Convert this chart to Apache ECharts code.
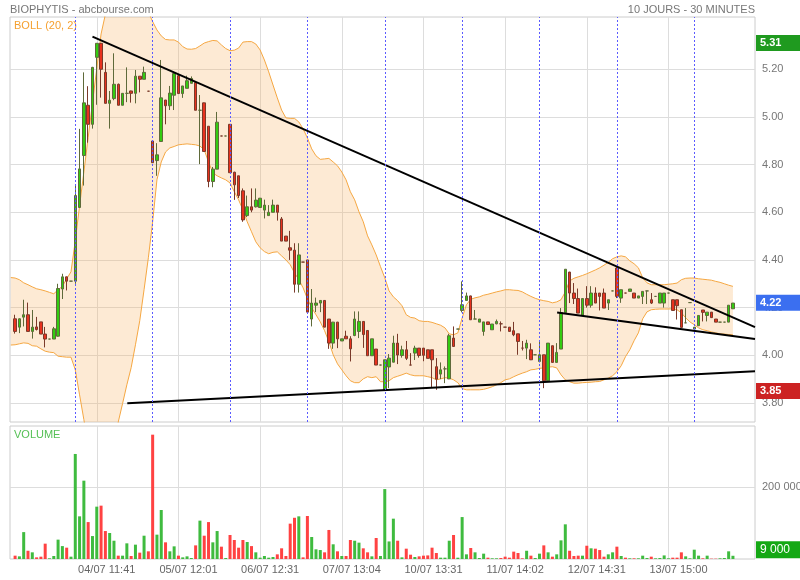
<!DOCTYPE html>
<html><head><meta charset="utf-8">
<script src="https://cdn.jsdelivr.net/npm/echarts@6/dist/echarts.min.js"></script>
<style>html,body{margin:0;padding:0;background:#fff}#c{width:800px;height:580px}</style>
</head><body><div id="c"></div>
<script>
// ---------- DATA ----------
const dayStarts = [14, 32, 50, 68, 86, 104, 122, 140, 158];
const tickIdx = [19, 38, 57, 76, 95, 114, 133, 152];
const tickLabels = ['04/07 11:41', '05/07 12:01', '06/07 12:31', '07/07 13:04', '10/07 13:31', '11/07 14:02', '12/07 14:31', '13/07 15:00'];
const priceTicks = [3.8, 4.0, 4.2, 4.4, 4.6, 4.8, 5.0, 5.2];
const volumeTicks = [200000];

const openP = [
4.153,4.118,4.160,4.170,4.100,4.119,4.140,4.089,4.068,4.068,
4.080,4.278,4.329,4.311,4.311,4.620,4.838,5.049,4.969,5.250,
5.309,5.187,5.057,5.077,5.137,5.049,5.099,5.109,5.099,5.171,
5.158,5.108,4.899,4.817,4.897,5.071,5.047,5.091,5.173,5.098,
5.120,5.141,5.144,5.028,5.059,4.961,4.729,4.781,4.920,4.920,
4.969,4.768,4.753,4.690,4.586,4.623,4.623,4.620,4.609,4.586,
4.600,4.630,4.572,4.500,4.451,4.441,4.298,4.391,4.400,4.152,
4.210,4.219,4.230,4.152,4.051,4.139,4.060,4.080,4.069,4.083,
4.100,4.142,4.104,3.998,4.026,3.959,3.855,3.951,3.971,4.051,
3.999,4.023,3.959,4.009,4.030,4.030,4.023,4.023,3.952,3.921,
3.943,3.901,4.072,4.110,4.188,4.230,4.249,4.152,4.139,4.100,
4.140,4.107,4.132,4.132,4.118,4.118,4.103,4.090,4.030,4.030,
4.023,4.002,3.974,4.002,3.893,4.040,3.970,4.026,4.179,4.349,
4.261,4.238,4.168,4.238,4.210,4.261,4.261,4.261,4.219,4.270,
4.366,4.240,4.261,4.268,4.261,4.240,4.247,4.270,4.233,4.247,
4.219,4.219,4.261,4.233,4.233,4.191,4.136,4.221,4.110,4.124,
4.190,4.167,4.181,4.152,4.139,4.139,4.139,4.195];
const closeP = [
4.100,4.153,4.170,4.100,4.118,4.108,4.089,4.068,4.068,4.111,
4.280,4.329,4.311,4.311,4.670,4.782,5.059,4.969,5.208,5.309,
5.200,5.057,5.070,5.137,5.049,5.099,5.099,5.099,5.171,5.158,
5.187,5.108,4.808,4.841,5.080,5.047,5.100,5.182,5.098,5.130,
5.152,5.161,5.028,5.028,4.855,4.729,4.781,4.978,4.920,4.920,
4.766,4.715,4.670,4.568,4.623,4.609,4.651,4.659,4.630,4.600,
4.630,4.600,4.479,4.479,4.441,4.298,4.421,4.391,4.181,4.219,
4.219,4.230,4.118,4.051,4.139,4.069,4.069,4.069,4.027,4.152,
4.142,4.087,3.998,4.069,3.959,3.959,3.981,3.988,4.051,4.001,
4.023,3.987,3.959,4.030,3.999,4.000,3.987,3.981,3.900,3.939,
3.943,4.082,4.037,4.110,4.212,4.249,4.149,4.152,4.152,4.140,
4.129,4.131,4.142,4.132,4.118,4.100,4.086,4.058,4.030,4.051,
3.981,4.002,4.002,3.893,4.051,3.970,4.012,4.179,4.361,4.261,
4.238,4.177,4.238,4.210,4.261,4.219,4.247,4.198,4.233,4.270,
4.247,4.275,4.261,4.278,4.240,4.249,4.268,4.270,4.219,4.247,
4.261,4.261,4.261,4.188,4.208,4.117,4.136,4.221,4.118,4.167,
4.180,4.181,4.158,4.139,4.139,4.139,4.210,4.219];
const lowP = [
4.091,4.093,4.121,4.100,4.070,4.104,4.089,4.033,4.068,4.068,
4.078,4.236,4.272,4.311,4.300,4.620,4.712,4.892,4.951,5.051,
5.081,5.057,4.951,5.070,5.049,5.049,5.062,5.060,5.057,5.103,
5.158,5.108,4.808,4.753,4.897,4.969,5.029,5.029,5.098,5.080,
5.120,5.141,5.028,4.802,4.855,4.705,4.705,4.781,4.920,4.920,
4.766,4.652,4.660,4.560,4.580,4.600,4.620,4.620,4.574,4.586,
4.600,4.565,4.479,4.479,4.400,4.263,4.263,4.391,4.180,4.121,
4.181,4.181,4.118,4.027,4.027,4.030,4.060,4.069,3.974,4.080,
4.072,4.031,3.998,3.998,3.959,3.959,3.850,3.862,3.970,3.963,
3.990,3.980,3.959,3.980,3.990,3.975,3.987,3.867,3.855,3.900,
3.883,3.900,4.037,4.110,4.180,4.230,4.149,4.152,4.139,4.082,
4.129,4.107,4.130,4.100,4.118,4.100,4.080,4.002,4.020,3.984,
3.980,4.002,3.970,3.862,3.890,3.970,3.970,4.026,4.179,4.219,
4.215,4.177,4.168,4.200,4.200,4.219,4.188,4.198,4.190,4.270,
4.240,4.220,4.261,4.268,4.240,4.240,4.215,4.215,4.215,4.247,
4.219,4.200,4.261,4.188,4.150,4.117,4.136,4.221,4.110,4.124,
4.142,4.142,4.158,4.139,4.139,4.139,4.139,4.195];
const highP = [
4.170,4.155,4.233,4.221,4.190,4.161,4.140,4.119,4.068,4.119,
4.300,4.342,4.330,4.311,4.712,4.950,5.187,5.129,5.210,5.310,
5.310,5.229,5.109,5.267,5.140,5.100,5.208,5.110,5.197,5.171,
5.211,5.108,4.899,4.890,5.239,5.071,5.130,5.190,5.180,5.130,
5.173,5.170,5.150,5.092,5.060,4.961,4.790,5.021,4.920,4.920,
4.970,4.770,4.753,4.700,4.670,4.700,4.700,4.660,4.653,4.630,
4.653,4.630,4.580,4.500,4.522,4.470,4.470,4.391,4.400,4.278,
4.242,4.230,4.230,4.152,4.140,4.140,4.069,4.103,4.080,4.184,
4.184,4.142,4.104,4.069,4.026,3.959,3.981,4.005,4.082,4.090,
4.040,4.060,4.009,4.040,4.030,4.030,4.023,4.023,3.988,3.970,
3.953,4.090,4.121,4.110,4.310,4.263,4.250,4.190,4.152,4.140,
4.140,4.131,4.150,4.142,4.118,4.118,4.140,4.090,4.060,4.065,
4.050,4.002,4.060,4.002,4.051,4.040,4.051,4.198,4.361,4.350,
4.303,4.280,4.238,4.290,4.290,4.285,4.261,4.280,4.233,4.270,
4.370,4.275,4.261,4.278,4.261,4.249,4.268,4.270,4.261,4.247,
4.261,4.261,4.261,4.233,4.233,4.191,4.198,4.221,4.118,4.167,
4.190,4.181,4.181,4.152,4.139,4.139,4.210,4.219];
const volume = [
9300,7400,75000,23000,18600,4600,6500,42800,1900,8400,
54000,36000,31600,6500,293000,119000,218500,103000,64000,146000,
148800,78000,72500,51000,9300,9300,43700,8400,40000,17700,
65000,21400,346800,67900,136700,46500,21400,35300,9300,4600,
7400,2800,38000,107000,65000,103000,46500,78000,34400,2800,
67000,53000,31600,53000,47400,36000,18600,3700,8400,3700,
5600,13000,29800,8400,98600,115000,119000,4600,120000,61400,
27000,25000,18600,81000,41000,21400,8400,8400,53000,51000,
45600,29800,18600,7400,58600,8400,195000,49000,112500,51000,
4600,28800,12000,5600,7400,9300,10000,31600,16700,3700,
3700,51000,67000,3700,117000,13000,30700,18600,2800,14900,
3700,1900,1900,2800,6500,3700,20500,16700,1900,23000,
9300,2800,14900,38000,18600,6500,13000,52000,96700,23000,
8400,9300,9300,37000,29800,28800,25000,6500,13000,18600,
34400,8400,3700,1900,1900,1900,9300,2800,6500,1900,
2800,10000,1900,3700,3700,18600,7400,1900,26000,9300,
1900,9300,900,900,1900,2800,21400,9000];

// Bollinger (20, 2) bands, first value = bar before the window
const bollStart = -1;
const bollUpper = [4.326,
4.324,4.317,4.304,4.296,4.287,4.279,4.275,4.270,4.264,4.258,
4.275,4.289,4.321,4.350,4.480,4.627,4.769,4.914,5.059,5.203,
5.348,5.43,5.50,5.55,5.58,5.60,5.61,5.60,5.58,5.54,
5.49,5.44,5.40,5.365,5.340,5.325,5.323,5.323,5.314,5.295,
5.285,5.284,5.287,5.298,5.310,5.316,5.321,5.319,5.302,5.287,
5.278,5.280,5.289,5.314,5.316,5.316,5.306,5.281,5.239,5.189,
5.134,5.080,5.029,4.996,4.994,4.994,4.979,4.950,4.912,4.866,
4.837,4.822,4.824,4.826,4.811,4.795,4.769,4.736,4.686,4.652,
4.602,4.560,4.501,4.463,4.421,4.372,4.325,4.270,4.245,4.229,
4.208,4.170,4.159,4.156,4.145,4.142,4.142,4.138,4.132,4.126,
4.115,4.090,4.086,4.094,4.157,4.212,4.235,4.241,4.245,4.252,
4.256,4.261,4.266,4.270,4.275,4.275,4.273,4.272,4.266,4.256,
4.247,4.239,4.233,4.229,4.226,4.220,4.224,4.233,4.266,4.312,
4.323,4.329,4.335,4.342,4.350,4.358,4.367,4.378,4.390,4.405,
4.413,4.417,4.413,4.396,4.384,4.367,4.325,4.304,4.296,4.296,
4.296,4.296,4.298,4.300,4.303,4.317,4.323,4.324,4.324,4.321,
4.319,4.317,4.315,4.310,4.306,4.300,4.294,4.289];
const bollLower = [4.043,
4.044,4.048,4.052,4.050,4.040,4.038,4.027,4.017,4.013,4.011,
3.996,3.994,3.992,3.992,3.939,3.834,3.730,3.62,3.52,3.45,
3.42,3.45,3.52,3.62,3.72,3.797,3.876,3.948,4.044,4.145,
4.275,4.409,4.560,4.736,4.811,4.853,4.870,4.876,4.883,4.885,
4.887,4.885,4.883,4.878,4.862,4.811,4.765,4.753,4.744,4.736,
4.723,4.686,4.652,4.610,4.560,4.518,4.476,4.451,4.435,4.426,
4.432,4.434,4.417,4.400,4.380,4.346,4.317,4.283,4.237,4.199,
4.170,4.140,4.103,4.057,4.002,3.964,3.939,3.914,3.893,3.885,
3.885,3.901,3.910,3.906,3.910,3.889,3.889,3.893,3.906,3.912,
3.918,3.925,3.918,3.914,3.914,3.914,3.910,3.906,3.897,3.901,
3.906,3.904,3.897,3.885,3.860,3.855,3.855,3.855,3.855,3.857,
3.862,3.868,3.876,3.885,3.897,3.901,3.910,3.918,3.925,3.931,
3.939,3.941,3.945,3.947,3.950,3.952,3.947,3.918,3.897,3.889,
3.883,3.883,3.885,3.886,3.887,3.889,3.890,3.897,3.904,3.914,
3.931,3.956,3.994,4.023,4.061,4.094,4.153,4.182,4.191,4.193,
4.194,4.194,4.194,4.195,4.191,4.178,4.157,4.140,4.128,4.115,
4.107,4.103,4.098,4.094,4.090,4.089,4.087,4.086];

// Hand-drawn trend lines: [bar index, price] end points
const trendResistance = [[18, 5.337], [172.13, 4.118]];
const trendWedgeLow = [[126.1, 4.179], [172.13, 4.068]];
const trendSupport = [[26.1, 3.799], [172.13, 3.933]];

// ---------- CHART ----------
const FONT = 'Liberation Sans, Arial, sans-serif';
const GREEN = '#33cc11', RED = '#e8321e';
const n = openP.length;
const candles = openP.map((o, i) => [i, o, closeP[i], Math.min(lowP[i], o, closeP[i]), Math.max(highP[i], o, closeP[i])]);
const dirUp = openP.map((o, i) => closeP[i] > o ? true : closeP[i] < o ? false : (i > 0 ? closeP[i - 1] <= closeP[i] : true));
const volData = volume.map((v, i) => ({ value: [i, v], itemStyle: { color: dirUp[i] ? '#3fbb3f' : '#ff4242' } }));
const bandData = bollUpper.map((u, i) => [i + bollStart, u, bollLower[i]]);
const maxHigh = Math.max(...highP), minLow = Math.min(...lowP), lastClose = closeP[n - 1], lastVol = volume[n - 1];
const fmtVol = v => String(v).replace(/\B(?=(\d{3})+(?!\d))/g, ' ');
const tickMap = {}; tickIdx.forEach((t, i) => tickMap[t] = tickLabels[i]);

const X_MIN = -1.186, X_MAX = 172.13;
const gridLineStyle = { color: '#dddddd', width: 1 };
const HIDDEN_LINE = { color: 'rgba(0,0,0,0)', width: 1, opacity: 1 };

function boxLabel(bg, text) {
  return { show: true, position: 'end', distance: 1, formatter: text, color: '#fff', backgroundColor: bg, opacity: 1,
    fontFamily: FONT, fontSize: 11, fontWeight: 'bold', padding: [3, 4, 2, 4], width: 36, align: 'left' };
}

const trendSeries = [trendResistance, trendWedgeLow, trendSupport].map(pts => ({
  type: 'line', xAxisIndex: 0, yAxisIndex: 0, data: pts, symbol: 'none', silent: true, z: 6,
  lineStyle: { color: '#000', width: 2 }
}));

const titleStyle = { fontFamily: FONT, fontSize: 11, fontWeight: 'normal', color: '#777' };
const option = {
  animation: false,
  backgroundColor: '#fff',
  title: [
    { text: 'BIOPHYTIS - abcbourse.com', left: 10, top: 4, padding: 0, textStyle: titleStyle },
    { text: '10 JOURS - 30 MINUTES', right: 45, top: 4, padding: 0, textStyle: titleStyle },
    { text: 'BOLL (20, 2)', left: 14, top: 20, padding: 0, textStyle: Object.assign({}, titleStyle, { color: '#f5a030' }) },
    { text: 'VOLUME', left: 14, top: 429, padding: 0, textStyle: Object.assign({}, titleStyle, { color: '#55c055' }) }
  ],
  grid: [
    { left: 10, right: 45, top: 17, bottom: 158, show: true, borderColor: '#cccccc', borderWidth: 1, containLabel: false, outerBoundsMode: 'none' },
    { left: 10, right: 45, top: 426, bottom: 21, show: true, borderColor: '#cccccc', borderWidth: 1, containLabel: false, outerBoundsMode: 'none' }
  ],
  xAxis: [
    { type: 'value', gridIndex: 0, min: X_MIN, max: X_MAX, axisLine: { show: false },
      axisTick: { show: false, customValues: tickIdx }, axisLabel: { show: false, customValues: tickIdx },
      splitLine: { show: true, lineStyle: gridLineStyle } },
    { type: 'value', gridIndex: 1, min: X_MIN, max: X_MAX, axisLine: { show: false },
      axisTick: { show: false, customValues: tickIdx },
      axisLabel: { show: true, customValues: tickIdx, formatter: v => tickMap[Math.round(v)] || '', margin: 5,
        fontFamily: FONT, fontSize: 11, color: '#666', padding: [0, 0, 0, 20] },
      splitLine: { show: true, lineStyle: gridLineStyle } }
  ],
  yAxis: [
    { type: 'value', gridIndex: 0, position: 'right', min: 3.72, max: 5.4193, axisLine: { show: false },
      axisTick: { show: false, customValues: priceTicks },
      axisLabel: { customValues: priceTicks, formatter: v => v.toFixed(2), margin: 7, fontFamily: FONT, fontSize: 11, color: '#777', padding: [0, 0, 3, 0] },
      splitLine: { show: true, lineStyle: gridLineStyle } },
    { type: 'value', gridIndex: 1, position: 'right', min: 0, max: 371000, axisLine: { show: false },
      axisTick: { show: false, customValues: volumeTicks },
      axisLabel: { customValues: volumeTicks, formatter: v => fmtVol(v), margin: 7, fontFamily: FONT, fontSize: 11, color: '#777' },
      splitLine: { show: true, lineStyle: gridLineStyle } }
  ],
  series: [
    { type: 'custom', xAxisIndex: 0, yAxisIndex: 0, data: bandData, clip: true, silent: true, z: 1,
      encode: { x: 0, y: [1, 2] },
      renderItem: function (params, api) {
        if (params.dataIndex !== 0) return null;
        const pts = [];
        for (let i = 0; i < bandData.length; i++) pts.push(api.coord([bandData[i][0], bandData[i][1]]));
        for (let i = bandData.length - 1; i >= 0; i--) pts.push(api.coord([bandData[i][0], bandData[i][2]]));
        return { type: 'polygon', shape: { points: pts }, style: { fill: 'rgba(247,178,96,0.27)', stroke: null } };
      } },
    { type: 'line', xAxisIndex: 0, yAxisIndex: 0, data: bollUpper.map((v, i) => [i + bollStart, v]), symbol: 'none', silent: true, z: 2,
      lineStyle: { color: '#f5a742', width: 1 } },
    { type: 'line', xAxisIndex: 0, yAxisIndex: 0, data: bollLower.map((v, i) => [i + bollStart, v]), symbol: 'none', silent: true, z: 2,
      lineStyle: { color: '#f5a742', width: 1 } },
    { type: 'candlestick', xAxisIndex: 0, yAxisIndex: 0, data: candles, encode: { x: 0, y: [1, 2, 3, 4] }, barWidth: 3, z: 4,
      itemStyle: { color: GREEN, color0: RED, borderColor: '#5f6a3a', borderColor0: '#7a3a2a', borderWidth: 1 },
      markLine: { silent: true, symbol: ['none', 'none'], z: 7,
        data: dayStarts.map(d => ({ xAxis: d, lineStyle: { color: '#5b5bff', width: 1, type: [2, 2] }, label: { show: false } })) } },
    { type: 'line', xAxisIndex: 0, yAxisIndex: 0, data: [], z: 9, silent: true,
      markLine: { silent: true, symbol: ['none', 'none'], z: 9, lineStyle: HIDDEN_LINE,
        data: [
          { yAxis: maxHigh, lineStyle: HIDDEN_LINE, label: boxLabel('#1f9a1f', maxHigh.toFixed(2)) },
          { yAxis: lastClose, lineStyle: HIDDEN_LINE, label: boxLabel('#3b6ff0', lastClose.toFixed(2)) },
          { yAxis: minLow, lineStyle: HIDDEN_LINE, label: boxLabel('#cc2222', minLow.toFixed(2)) }
        ] } },
    ...trendSeries,
    { type: 'bar', xAxisIndex: 1, yAxisIndex: 1, data: volData, barWidth: 3, z: 3,
      markLine: { silent: true, symbol: ['none', 'none'], z: 9, lineStyle: HIDDEN_LINE,
        data: [{ yAxis: lastVol, lineStyle: HIDDEN_LINE, label: Object.assign(boxLabel('#14a814', fmtVol(lastVol)), { fontWeight: 'normal', fontSize: 12, offset: [0, -6] }) }] } }
  ]
};
const chart = echarts.init(document.getElementById('c'), null, { renderer: 'canvas' });
chart.setOption(option);
</script></body></html>
